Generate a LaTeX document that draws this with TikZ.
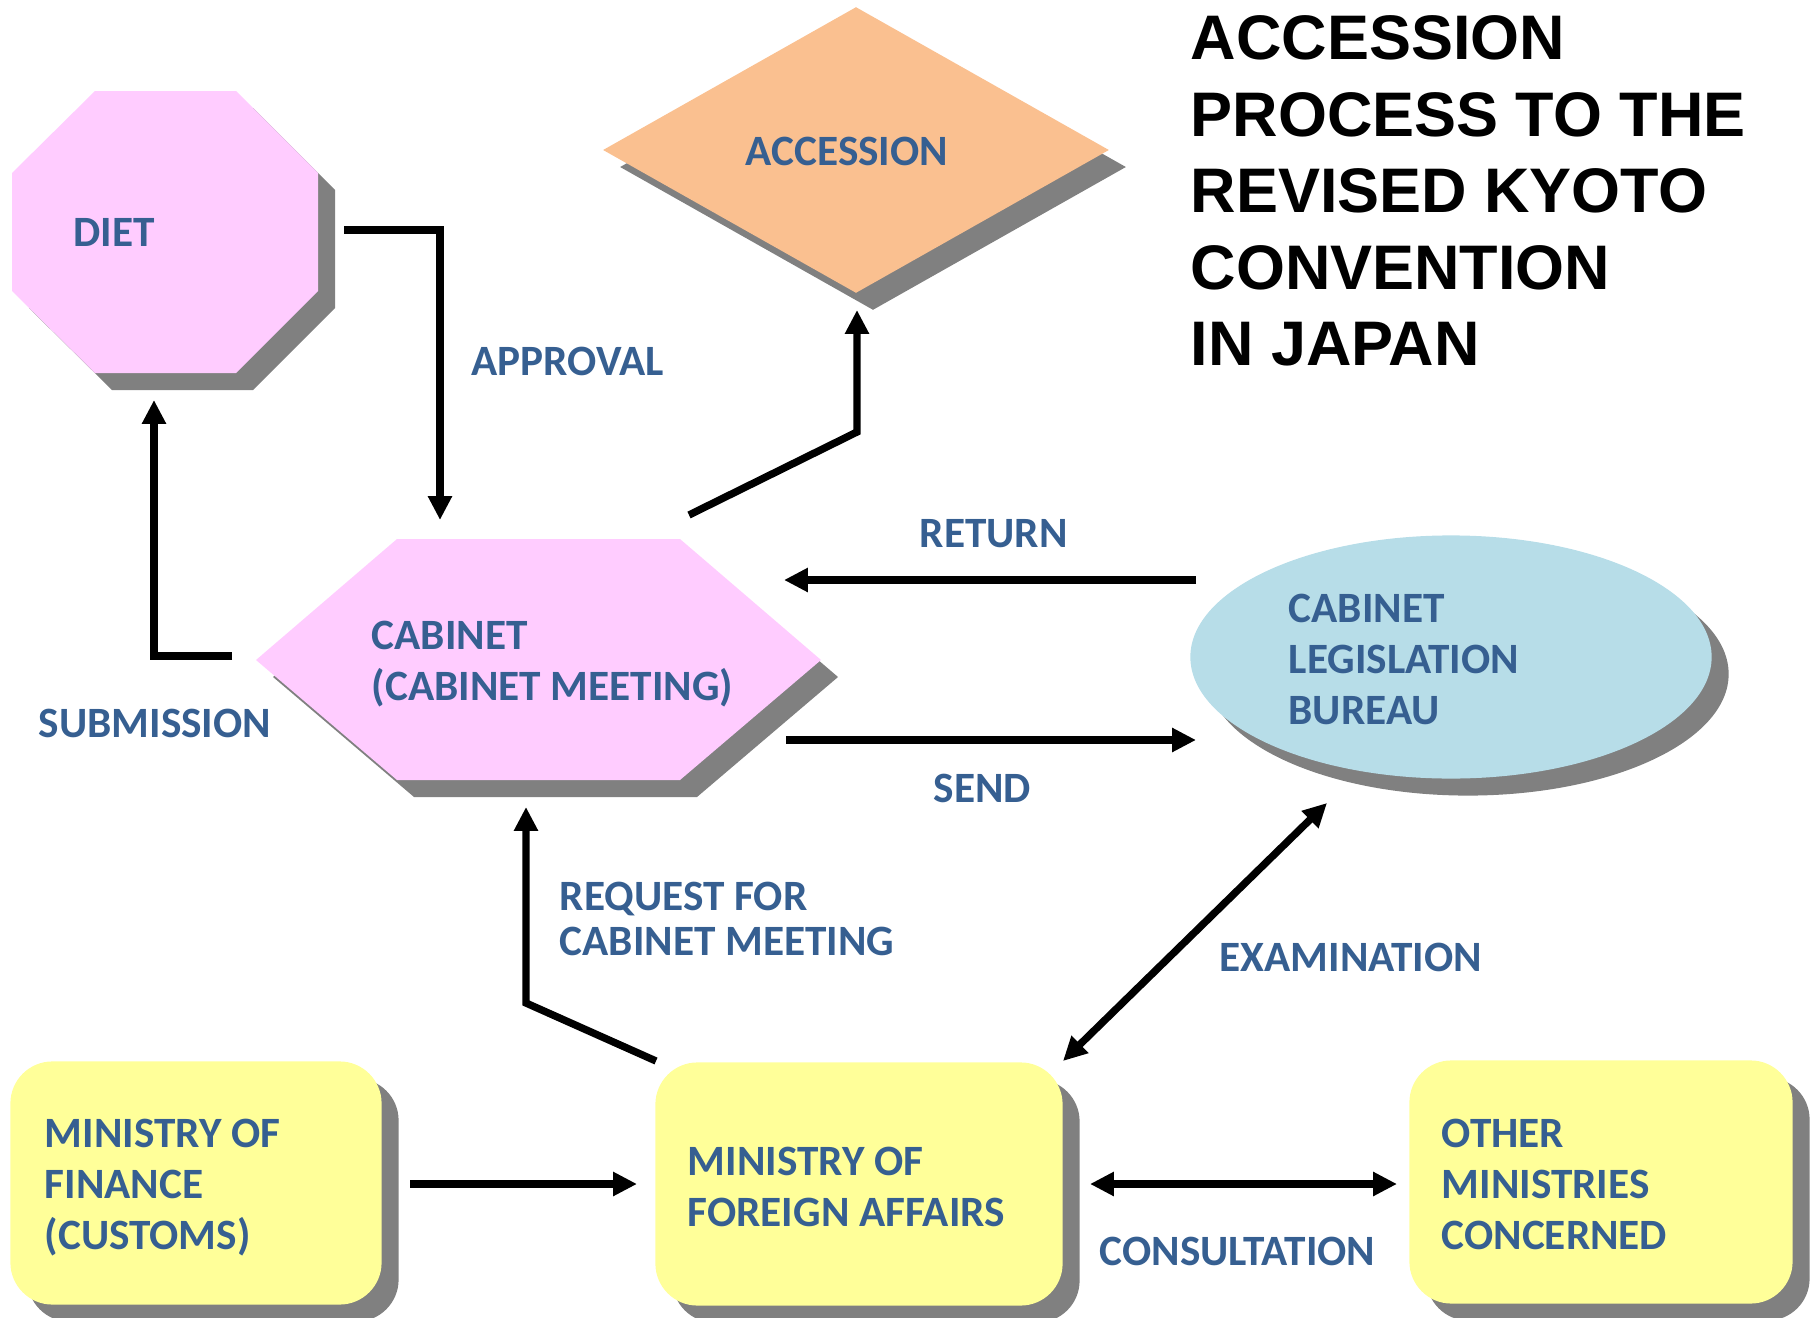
\documentclass[tikz,border=0pt]{standalone}
\usepackage{fontspec}
\setmainfont{Carlito}
\newfontfamily\titlefont{Liberation Sans}
\usetikzlibrary{arrows.meta,shapes.geometric,shadows}
\definecolor{txtblue}{HTML}{365F91}
\definecolor{pinkfill}{HTML}{FFCCFF}
\definecolor{orangefill}{HTML}{FAC090}
\definecolor{bluefill}{HTML}{B7DDE8}
\definecolor{yellowfill}{HTML}{FFFF99}
\definecolor{shadowgray}{HTML}{808080}
\newcommand\lblfont{\fontsize{12.3}{14.5}\selectfont\bfseries}
\tikzstyle{dropshade}=[general shadow={fill=shadowgray,shadow xshift=0.17cm,shadow yshift=-0.17cm}]
\tikzstyle{txt}=[text=txtblue,font=\lblfont,inner sep=0pt]
\tikzstyle{arrow}=[-{Triangle[length=6.8pt,width=6.5pt]},line width=2.1pt]
\tikzstyle{biarrow}=[{Triangle[length=6.8pt,width=6.5pt]}-{Triangle[length=6.8pt,width=6.5pt]},line width=2.1pt]

\begin{document}
\begin{tikzpicture}[x=0.01cm,y=-0.01cm]

\tikzstyle{box}=[rectangle,rounded corners=0.42cm,fill=yellowfill,dropshade,minimum height=2.43cm]

\useasboundingbox (0,0) rectangle (1820,1318);

% shapes
\fill [pinkfill,dropshade] (95,91) -- (236,91) -- (318,173) -- (318,291) -- (236,373) -- (95,373) -- (12,291) -- (12,173) -- cycle;
\node (diet) [txt,anchor=base west] at (73,246) {DIET};

\node (acc) [diamond,fill=orangefill,dropshade,minimum width=5.06cm,minimum height=2.86cm] at (856,150) {};
\node (acctext) [txt] at (847,151) {ACCESSION};

\fill [pinkfill,dropshade] (397,539) -- (680,539) -- (821,660) -- (680,780) -- (397,780) -- (256,660) -- cycle;
\node (cab) [txt,anchor=west,align=left] at (371,664) {CABINET\\(CABINET MEETING)};

\node (clb) [ellipse,fill=bluefill,dropshade,minimum width=5.21cm,minimum height=2.43cm] at (1451,657) {};
\node (clbtext) [txt,anchor=west,align=left] at (1288,659) {CABINET\\LEGISLATION\\BUREAU};

\node (mof) [box,minimum width=3.71cm] at (196,1183) {};
\node (moftext) [txt,anchor=west,align=left] at (44,1188) {MINISTRY OF\\FINANCE\\(CUSTOMS)};
\node (mofa) [box,minimum width=4.07cm] at (859,1184) {};
\node (mofatext) [txt,anchor=west,align=left] at (687,1187) {MINISTRY OF\\FOREIGN AFFAIRS};
\node (other) [box,minimum width=3.83cm] at (1601,1182) {};
\node (othertext) [txt,anchor=west,align=left] at (1441,1184) {OTHER\\MINISTRIES\\CONCERNED};

\node (title) [anchor=west,align=left,inner sep=0pt,font=\titlefont\fontsize{17.9}{21.8}\selectfont\bfseries] at (1190,191) {ACCESSION\\PROCESS TO THE\\REVISED KYOTO\\CONVENTION\\IN JAPAN};

% connector ends
\coordinate (appr-a) at (344,230);
\coordinate (appr-b) at (440,520);
\coordinate (sub-a) at (232,656);
\coordinate (sub-b) at (154,400);
\coordinate (up-a) at (689,515);
\coordinate (up-b) at (857,432);
\coordinate (up-c) at (857,310);
\coordinate (ret-a) at (1196,580);
\coordinate (ret-b) at (784,580);
\coordinate (send-a) at (786,740);
\coordinate (send-b) at (1196,740);
\coordinate (req-a) at (656,1061);
\coordinate (req-b) at (526,1003);
\coordinate (req-c) at (526,807);
\coordinate (fin-a) at (410,1184);
\coordinate (fin-b) at (637,1184);
\coordinate (exam-a) at (1063,1061);
\coordinate (exam-b) at (1327,803);
\coordinate (cons-a) at (1090,1184);
\coordinate (cons-b) at (1397,1184);

% connectors
\draw [arrow] (appr-a) -| (appr-b);
\draw [arrow] (sub-a) -| (sub-b);
\draw [arrow] (up-a) -- (up-b) -- (up-c);
\draw [arrow] (ret-a) -- (ret-b);
\draw [arrow] (send-a) -- (send-b);
\draw [arrow] (req-a) -- (req-b) -- (req-c);
\draw [arrow] (fin-a) -- (fin-b);
\draw [biarrow] (exam-a) -- (exam-b);
\draw [biarrow] (cons-a) -- (cons-b);

% labels
\node (approval) [txt,anchor=base west] at (471,375) {APPROVAL};
\node (submission) [txt,anchor=base west] at (38,737) {SUBMISSION};
\node (return) [txt,anchor=base west] at (919,547) {RETURN};
\node (send) [txt,anchor=base west] at (933,802) {SEND};
\node (request) [txt,anchor=west,align=left,font=\fontsize{12.3}{12.8}\selectfont\bfseries] at (559,919) {REQUEST FOR\\CABINET MEETING};
\node (exam) [txt,anchor=base west] at (1219,971) {EXAMINATION};
\node (consult) [txt,anchor=base west] at (1099,1265) {CONSULTATION};

\end{tikzpicture}
\end{document}
